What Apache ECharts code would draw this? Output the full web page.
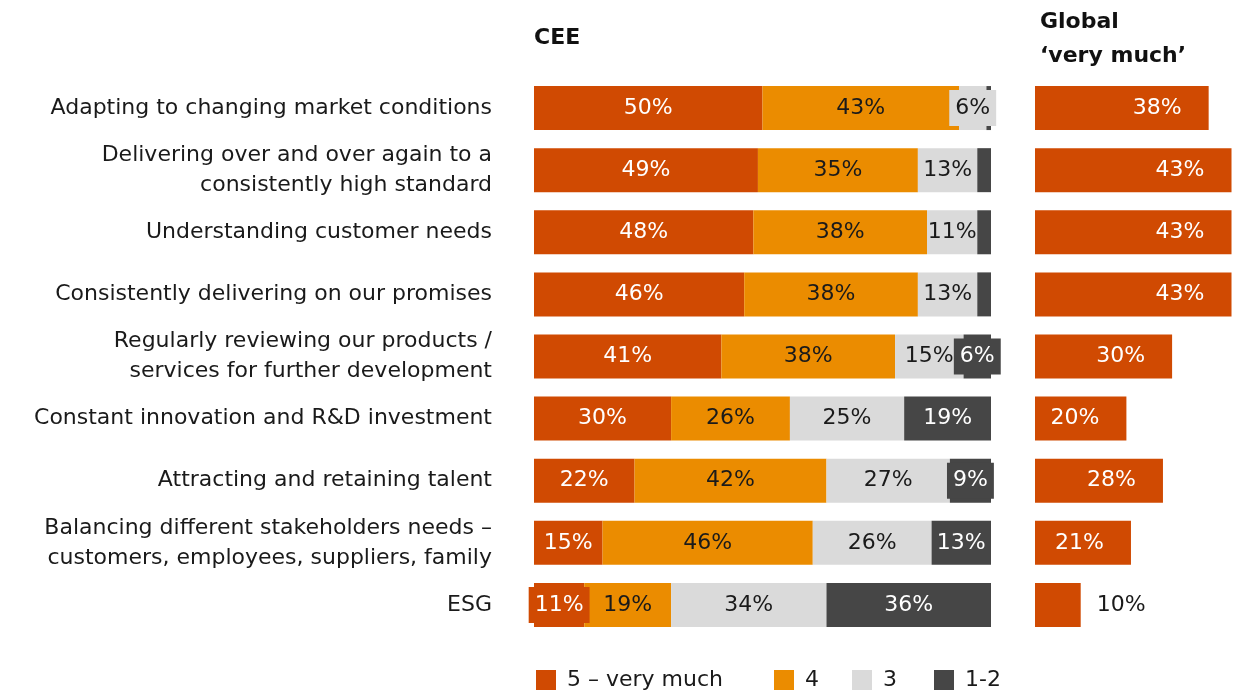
<!DOCTYPE html>
<html>
<head>
<meta charset="utf-8">
<script src="https://cdn.jsdelivr.net/npm/echarts@6/dist/echarts.min.js"></script>
<style>
  html, body { margin: 0; padding: 0; background: #fff; }
  #chart { width: 1241px; height: 691px; }
</style>
</head>
<body>
<div id="chart"></div>
<script>
// Survey rows, top to bottom
const categories = [
  'Adapting to changing market conditions',
  'Delivering over and over again to a\nconsistently high standard',
  'Understanding customer needs',
  'Consistently delivering on our promises',
  'Regularly reviewing our products /\nservices for further development',
  'Constant innovation and R&D investment',
  'Attracting and retaining talent',
  'Balancing different stakeholders needs –\ncustomers, employees, suppliers, family',
  'ESG'
];

// CEE answer shares (%)
const veryMuch = [50, 49, 48, 46, 41, 30, 22, 15, 11];
const four     = [43, 35, 38, 38, 38, 26, 42, 46, 19];
const three    = [6, 13, 11, 13, 15, 25, 27, 26, 34];
const oneTwo   = [1, 3, 3, 3, 6, 19, 9, 13, 36];

// Global share answering 'very much' (%)
const globalVeryMuch = [38, 43, 43, 43, 30, 20, 28, 21, 10];

const seriesNames = ['5 – very much', '4', '3', '1-2'];
const FONT = '"DejaVu Sans", "Liberation Sans", Arial, sans-serif';
const FS = 22;
const RED = '#D04A02', ORANGE = '#EB8C00', LIGHT = '#DADADA', DARK = '#464646';

const stackDefs = [
  { name: seriesNames[0], values: veryMuch, color: RED, text: '#fff' },
  { name: seriesNames[1], values: four, color: ORANGE, text: '#1a1a1a' },
  { name: seriesNames[2], values: three, color: LIGHT, text: '#1a1a1a' },
  { name: seriesNames[3], values: oneTwo, color: DARK, text: '#fff' }
];

function stackSeries(def, idx) {
  return {
    name: def.name,
    type: 'bar',
    stack: 'cee',
    xAxisIndex: 0,
    yAxisIndex: 0,
    barWidth: 44,
    itemStyle: { color: def.color },
    label: {
      show: true,
      position: 'inside',
      fontFamily: FONT,
      fontSize: FS,
      color: def.text,
      formatter: p => (p.value >= 5 ? p.value + '%' : '')
    },
    data: def.values.map(v => {
      // narrow segments get a box in the segment colour so the text stays readable
      const boxed = v >= 5 && (v < 10 || (idx === 0 && v <= 11));
      if (!boxed) return v;
      return {
        value: v,
        label: { backgroundColor: def.color, padding: [8, 6, 6, 6] }
      };
    })
  };
}

// the global panel uses the same px-per-percent scale as the CEE panel
const ceeWidth = 457;
const globalWidth = 200;
const globalMax = 100 * globalWidth / ceeWidth;

const chart = echarts.init(document.getElementById('chart'));
chart.setOption({
  animation: false,
  backgroundColor: '#fff',
  title: [
    { text: 'CEE', left: 529, top: 22,
      textStyle: { fontFamily: FONT, fontSize: FS, fontWeight: 'bold', color: '#111' } },
    { text: 'Global\n‘very much’', left: 1035, top: 0,
      textStyle: { fontFamily: FONT, fontSize: FS, fontWeight: 'bold', color: '#111', lineHeight: 34 } }
  ],
  legend: seriesNames.map((n, i) => ({
    data: [n],
    left: [531, 769, 847, 929][i],
    top: 664,
    itemWidth: 20,
    itemHeight: 20,
    icon: 'rect',
    selectedMode: false,
    textStyle: { fontFamily: FONT, fontSize: FS, color: '#1a1a1a', padding: [0, 0, 0, 6] }
  })),
  grid: [
    { left: 534, top: 77, width: ceeWidth, height: 559 },
    { left: 1035, top: 77, width: globalWidth, height: 559 }
  ],
  xAxis: [
    { gridIndex: 0, type: 'value', min: 0, max: 100, show: false },
    { gridIndex: 1, type: 'value', min: 0, max: globalMax, show: false }
  ],
  yAxis: [
    { gridIndex: 0, type: 'category', data: categories, inverse: true,
      axisLine: { show: false }, axisTick: { show: false },
      axisLabel: { margin: 42, fontFamily: FONT, fontSize: FS, color: '#1a1a1a', lineHeight: 30, align: 'right' } },
    { gridIndex: 1, type: 'category', data: categories, inverse: true, show: false }
  ],
  series: [
    ...stackDefs.map(stackSeries),
    {
      name: 'Global',
      type: 'bar',
      xAxisIndex: 1,
      yAxisIndex: 1,
      barWidth: 44,
      itemStyle: { color: RED },
      label: {
        show: true,
        position: 'insideRight',
        distance: 27,
        fontFamily: FONT,
        fontSize: FS,
        color: '#fff',
        formatter: '{c}%'
      },
      data: globalVeryMuch.map(v => v < 15
        ? { value: v, label: { position: 'right', distance: 16, color: '#1a1a1a' } }
        : v)
    }
  ]
});
</script>
</body>
</html>
